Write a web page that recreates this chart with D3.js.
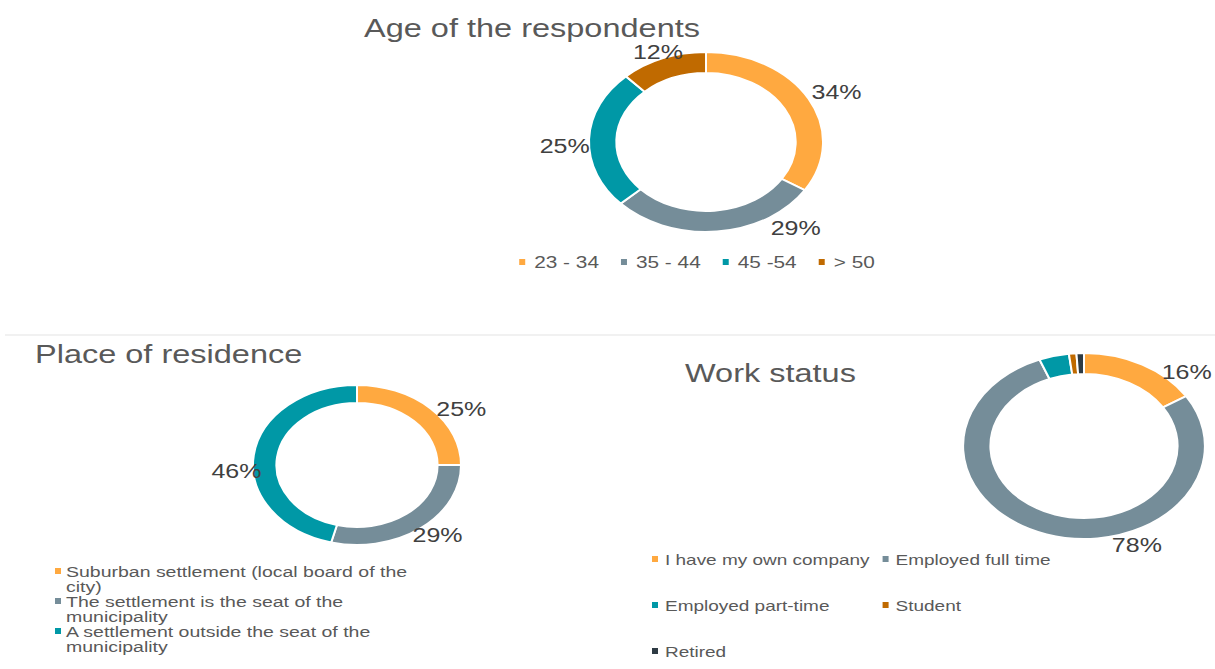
<!DOCTYPE html>
<html>
<head>
<meta charset="utf-8">
<script src="https://cdn.jsdelivr.net/npm/d3@7"></script>
<style>
  body { margin: 0; background: #fff; }
  svg { display: block; font-family: "Liberation Sans", Arial, sans-serif; }
</style>
</head>
<body>
<svg id="chart" width="1215" height="669"></svg>
<script>
// data
const palette = ['#FFA940', '#758D99', '#0098A6', '#C06A00', '#2E3B44'];

const ageCategories = ['23 - 34', '35 - 44', '45 -54', '> 50'];
const ageValues = [34, 29, 25, 12];

const residenceCategories = [
    'Suburban settlement (local board of the city)',
    'The settlement is the seat of the municipality',
    'A settlement outside the seat of the municipality'
];
const residenceValues = [25, 29, 46];

const workCategories = ['I have my own company', 'Employed full time', 'Employed part-time', 'Student', 'Retired'];
const workValues = [16, 78, 4, 1, 1];

// the original picture is stretched sideways
const SX = 1.3;

class DonutChart {
    constructor (config, data) {
        this.config = {
            parent: config.parent,
            cx: config.cx,
            cy: config.cy,
            outer: config.outer,
            inner: config.inner,
            title: config.title || '',
            titlePos: config.titlePos,
            labelNudge: config.labelNudge || [],
            minLabel: config.minLabel || 0,
            legend: config.legend
        };
        this.data = data;
        this.init();
    }

    init() {
        let self = this;
        self.svg = d3.select(self.config.parent);

        self.pie = d3.pie()
            .sort(null)
            .value(d => d.value);

        self.arc = d3.arc()
            .innerRadius(self.config.inner)
            .outerRadius(self.config.outer);

        self.chart = self.svg.append('g')
            .attr('transform', `translate(${self.config.cx}, ${self.config.cy})`);

        self.svg.append('text')
            .attr('transform', `translate(${self.config.titlePos[0]}, ${self.config.titlePos[1]}) scale(${SX}, 1)`)
            .style('font-size', '25px')
            .attr('fill', '#595959')
            .text(self.config.title);
    }

    render() {
        let self = this;
        const arcs = self.pie(self.data);

        self.chart.append('g')
            .attr('transform', `scale(${SX}, 1)`)
            .selectAll('path')
            .data(arcs)
            .join('path')
            .attr('d', self.arc)
            .attr('fill', (d, i) => palette[i])
            .attr('stroke', '#fff')
            .attr('stroke-width', 2)
            .attr('vector-effect', 'non-scaling-stroke');

        self.chart.selectAll('text.pct')
            .data(arcs.filter(d => d.data.value >= self.config.minLabel))
            .join('text')
            .attr('class', 'pct')
            .attr('transform', d => {
                const c = self.arc.centroid(d);
                const n = self.config.labelNudge[d.index] || [0, 0];
                return `translate(${c[0] * SX + n[0]}, ${c[1] + n[1]}) scale(1.25, 1)`;
            })
            .attr('text-anchor', 'middle')
            .attr('dy', '0.36em')
            .style('font-size', '20px')
            .attr('fill', '#404040')
            .text(d => d.data.value + '%');

        self.renderLegend();
    }

    renderLegend() {
        let self = this;
        const lg = self.config.legend;
        const g = self.svg.append('g');
        const ms = 6;

        const items = g.selectAll('g.item')
            .data(self.data)
            .join('g')
            .attr('class', 'item');

        items.append('rect')
            .attr('width', ms)
            .attr('height', ms)
            .attr('fill', (d, i) => palette[i]);

        const texts = items.append('text')
            .style('font-size', lg.fontSize + 'px')
            .attr('fill', '#595959');

        if (lg.type === 'column') {
            // wrap long names
            texts.each(function (d) {
                const t = d3.select(this);
                const words = d.name.split(' ');
                let line = [];
                let lineNo = 0;
                let tspan = t.append('tspan').attr('x', 0).attr('y', 0);
                words.forEach(w => {
                    line.push(w);
                    tspan.text(line.join(' '));
                    if (tspan.node().getComputedTextLength() * SX > lg.wrap && line.length > 1) {
                        line.pop();
                        tspan.text(line.join(' '));
                        line = [w];
                        lineNo++;
                        tspan = t.append('tspan').attr('x', 0).attr('y', lineNo * lg.lineHeight).text(w);
                    }
                });
                d.lines = lineNo + 1;
            });
            let y = lg.y;
            items.each(function (d) {
                const it = d3.select(this);
                it.select('rect').attr('x', lg.x).attr('y', y - 9);
                it.select('text').attr('transform', `translate(${lg.x + ms + 5}, ${y}) scale(${SX}, 1)`);
                y += d.lines * lg.lineHeight;
            });
        } else {
            texts.text(d => d.name);
            const widths = [];
            texts.each(function () { widths.push(this.getComputedTextLength() * SX); });

            if (lg.type === 'row') {
                const total = d3.sum(widths) + self.data.length * (ms + 9) + (self.data.length - 1) * lg.gap;
                let x = lg.center - total / 2;
                items.each(function (d, i) {
                    const it = d3.select(this);
                    it.select('rect').attr('x', x).attr('y', lg.y - 9);
                    it.select('text').attr('transform', `translate(${x + ms + 9}, ${lg.y}) scale(${SX}, 1)`);
                    x += ms + 9 + widths[i] + lg.gap;
                });
            } else {
                // grid, filled row by row
                const cols = lg.cols;
                const colW = d3.range(cols).map(c => d3.max(widths.filter((w, i) => i % cols === c)));
                const colX = [lg.x];
                for (let c = 1; c < cols; c++) colX.push(colX[c - 1] + ms + 7 + colW[c - 1] + lg.gap);
                items.each(function (d, i) {
                    const it = d3.select(this);
                    const x = colX[i % cols];
                    const y = lg.y + Math.floor(i / cols) * lg.rowHeight;
                    it.select('rect').attr('x', x).attr('y', y - 9);
                    it.select('text').attr('transform', `translate(${x + ms + 7}, ${y}) scale(${SX}, 1)`);
                });
            }
        }
    }
}

const svg = d3.select('#chart');

// thin separator between the top chart and the two lower charts
svg.append('line')
    .attr('x1', 5).attr('x2', 1215)
    .attr('y1', 335).attr('y2', 335)
    .attr('stroke', '#ececec')
    .attr('stroke-width', 1.5);

const toData = (names, values) => names.map((n, i) => ({ name: n, value: values[i] }));

const ageChart = new DonutChart({
    parent: '#chart',
    cx: 706, cy: 142, outer: 90, inner: 69,
    title: 'Age of the respondents',
    titlePos: [364, 37],
    labelNudge: [[40, -12], [80, 7], [-38, 6], [-10, -16]],
    legend: { type: 'row', center: 697, y: 268, gap: 22, fontSize: 16 }
}, toData(ageCategories, ageValues));
ageChart.render();

const residenceChart = new DonutChart({
    parent: '#chart',
    cx: 357, cy: 465, outer: 80, inner: 62,
    title: 'Place of residence',
    titlePos: [35, 363],
    labelNudge: [[39, -6], [24, 14], [-29, 15]],
    legend: { type: 'column', x: 55, y: 577, lineHeight: 15, wrap: 345, fontSize: 15 }
}, toData(residenceCategories, residenceValues));
residenceChart.render();

const workChart = new DonutChart({
    parent: '#chart',
    cx: 1084, cy: 446, outer: 93, inner: 72,
    title: 'Work status',
    titlePos: [685, 382],
    labelNudge: [[51, -2], [86, 20]],
    minLabel: 10,
    legend: { type: 'grid', cols: 2, x: 652, y: 565, rowHeight: 46, gap: 13, fontSize: 14.6 }
}, toData(workCategories, workValues));
workChart.render();
</script>
</body>
</html>
